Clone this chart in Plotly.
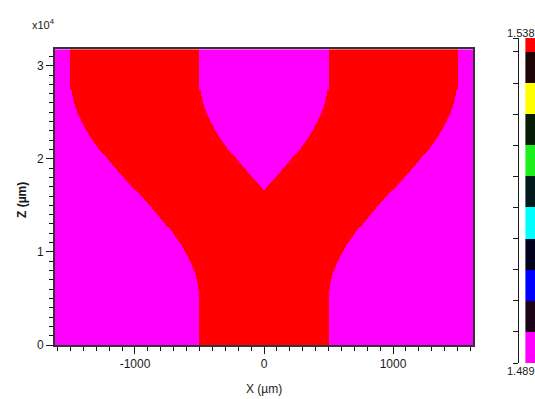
import numpy as np
import plotly.graph_objects as go

# Y-branch waveguide: refractive index map (X lateral, Z propagation, in µm)
N_CLAD = 1.489
N_CORE = 1.538
ARM_HALF_WIDTH = 500.0      # half width of trunk and of each arm
ARM_FINAL_OFFSET = 1000.0   # arm centre offset at the output
BEND_START_Z = 5000.0
BEND_END_Z = 28400.0
X_LIMITS = [-1620, 1620]
Z_LIMITS = [0, 31800]
GRID_STEP_X = 8.0
GRID_STEP_Z = 80.0

X_TICKS = [-1000, 0, 1000]
X_TICK_TEXT = ["-1000", "0", "1000"]
Z_TICKS = [0, 10000, 20000, 30000]
Z_TICK_TEXT = ["0", "1", "2", "3"]

# colour bar bands, bottom to top
BAND_COLORS = ["#ff00ff", "#1c0318", "#0000ff", "#02021e", "#00ffff", "#021a1c",
               "#1ef01e", "#061c06", "#ffff00", "#1e0404", "#ff0000"]
TOP_BAND_FRACTION = 0.043

FONT = "Liberation Sans, Arial, sans-serif"
INK = "#1a1a1a"

# ---- index map on a grid ----
x = np.arange(X_LIMITS[0] + GRID_STEP_X / 2, X_LIMITS[1], GRID_STEP_X)
z = np.arange(Z_LIMITS[0] + GRID_STEP_Z / 2, Z_LIMITS[1], GRID_STEP_Z)
t = np.clip((z - BEND_START_Z) / (BEND_END_Z - BEND_START_Z), 0.0, 1.0)
arm_center = ARM_FINAL_OFFSET / 2.0 * (1.0 - np.cos(np.pi * t))  # cosine S-bend
X, C = np.meshgrid(x, arm_center)
core = np.abs(np.abs(X) - C) <= ARM_HALF_WIDTH
n_map = np.where(core, N_CORE, N_CLAD)

# ---- colour bar band edges ----
n_top_band = N_CORE - TOP_BAND_FRACTION * (N_CORE - N_CLAD)
band_edges = list(np.linspace(N_CLAD, n_top_band, len(BAND_COLORS))) + [N_CORE]
n_bands = len(BAND_COLORS)
band_scale = []
for i, col in enumerate(BAND_COLORS):
    band_scale.append([i / n_bands, col])
    band_scale.append([(i + 1) / n_bands, col])

fig = go.Figure()
fig.add_trace(go.Heatmap(
    x=x, z=n_map, y=z,
    zmin=N_CLAD, zmax=N_CORE,
    colorscale=[[0, "#ff00ff"], [1, "#ff0000"]],
    showscale=False, zsmooth=False, hoverinfo="skip",
))
fig.add_trace(go.Heatmap(
    x=[0.4, 1.6], y=band_edges,
    z=[[i] for i in range(n_bands)],
    zmin=-0.5, zmax=n_bands - 0.5,
    colorscale=band_scale, showscale=False, zsmooth=False,
    xaxis="x2", yaxis="y2", hoverinfo="skip",
))

W, H = 535, 399
plot_l, plot_r, plot_t, plot_b = 55, 473, 49, 345
bar_l, bar_t, bar_b = 519, 38, 363

axis_common = dict(
    showline=True, linecolor="#333333", linewidth=2, mirror=True,
    ticks="outside", ticklen=7, tickwidth=1.3, tickcolor=INK,
    showgrid=False, zeroline=False, automargin=False,
    tickfont=dict(family=FONT, size=12, color=INK),
)

fig.update_layout(
    width=W, height=H,
    margin=dict(l=0, r=0, t=0, b=0),
    paper_bgcolor="white", plot_bgcolor="white",
    font=dict(family=FONT, color=INK),
    xaxis=dict(
        domain=[plot_l / W, plot_r / W], range=X_LIMITS,
        tickvals=X_TICKS, ticktext=X_TICK_TEXT,
        minor=dict(dtick=100, tick0=0, ticks="outside", ticklen=4,
                   tickwidth=1.1, tickcolor=INK),
        **axis_common,
    ),
    yaxis=dict(
        domain=[1 - plot_b / H, 1 - plot_t / H], range=Z_LIMITS,
        tickvals=Z_TICKS, ticktext=Z_TICK_TEXT,
        minor=dict(dtick=1000, tick0=0, ticks="outside", ticklen=4,
                   tickwidth=1.1, tickcolor=INK),
        **axis_common,
    ),
    xaxis2=dict(domain=[bar_l / W, 1], range=[0, 1], visible=False,
                showticklabels=False, anchor="y2"),
    yaxis2=dict(
        domain=[1 - bar_b / H, 1 - bar_t / H], range=[N_CLAD, N_CORE],
        anchor="x2", side="left", showline=True, linecolor=INK, linewidth=1.3,
        ticks="outside", ticklen=5, tickwidth=1.2, tickcolor=INK,
        tickvals=band_edges, showticklabels=False,
        showgrid=False, zeroline=False, automargin=False,
    ),
)

annos = [
    dict(text="x10<sup>4</sup>", x=30 / W, y=1 - 24 / H, xanchor="left",
         font=dict(size=11)),
    dict(text="<b>Z (µm)</b>", x=22 / W, y=1 - 200 / H, textangle=-90,
         font=dict(size=12)),
    dict(text="X (µm)", x=264 / W, y=1 - 389 / H, font=dict(size=12)),
    dict(text="1.538", x=521 / W, y=1 - 33 / H, font=dict(size=11)),
    dict(text="1.489", x=521 / W, y=1 - 371 / H, font=dict(size=11)),
]
for a in annos:
    fig.add_annotation(xref="paper", yref="paper", showarrow=False,
                       yanchor=a.pop("yanchor", "middle"),
                       xanchor=a.pop("xanchor", "center"), **a)

fig.write_html("out.html")
